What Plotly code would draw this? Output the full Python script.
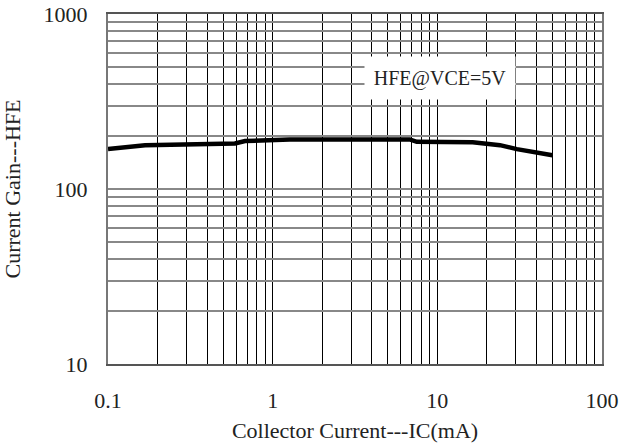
import plotly.graph_objects as go

# Data
ic_ma = [0.1, 0.168, 0.59, 0.68, 1.27, 6.8, 7.5, 16.4, 24, 30.4, 50]
hfe = [169, 178, 182, 188, 192, 192, 186, 185, 178, 169, 156]

x_decades = [0.1, 1, 10]
y_decades = [10, 100]
x_tickvals = [d * k for d in x_decades for k in range(1, 10)] + [100]
x_ticktext = [("%g" % v) if v in (0.1, 1, 10, 100) else "" for v in x_tickvals]
y_tickvals = [d * k for d in y_decades for k in range(1, 10)] + [1000]
y_ticktext = [("%g" % v) if v in (10, 100, 1000) else "" for v in y_tickvals]

x_title = "Collector Current---IC(mA)"
y_title = "Current Gain---HFE"
note = "HFE@VCE=5V"

FONT = "Liberation Serif"

fig = go.Figure()
fig.add_trace(go.Scatter(
    x=ic_ma, y=hfe, mode="lines",
    line=dict(color="black", width=4.5),
    showlegend=False, hoverinfo="skip",
))

fig.update_layout(
    width=622, height=446,
    margin=dict(l=108, r=20, t=14, b=82, autoexpand=False),
    paper_bgcolor="white", plot_bgcolor="white",
    font=dict(family=FONT, size=22, color="#222222"),
    annotations=[dict(
        x=0.672, y=0.817, xref="paper", yref="paper",
        text=note, showarrow=False,
        font=dict(family=FONT, size=20, color="#222222"),
        bgcolor="white", width=148, height=40,
        xanchor="center", yanchor="middle",
    )],
)

fig.update_xaxes(
    type="log", range=[-1, 2],
    tickvals=x_tickvals, ticktext=x_ticktext,
    showgrid=True, gridcolor="black", gridwidth=1,
    showline=True, linecolor="#555555", linewidth=2, mirror=True,
    ticks="", ticklabelstandoff=16, automargin=False,
    ticklabeloverflow="allow",
    zeroline=False,
    title=dict(text=x_title, font=dict(family=FONT, size=22), standoff=10),
)
fig.update_yaxes(
    type="log", range=[1, 3],
    tickvals=y_tickvals, ticktext=y_ticktext,
    showgrid=True, gridcolor="#888888", gridwidth=1.5,
    showline=True, linecolor="#777777", linewidth=2, mirror=True,
    ticks="", ticklabelstandoff=14, automargin=False,
    ticklabeloverflow="allow",
    zeroline=False,
    title=dict(text=y_title, font=dict(family=FONT, size=22), standoff=20),
)

# remove the default page margin so the 622x446 figure fills the window
fig.write_html("out.html", config={"displayModeBar": False},
               post_script="document.body.style.margin='0';")
